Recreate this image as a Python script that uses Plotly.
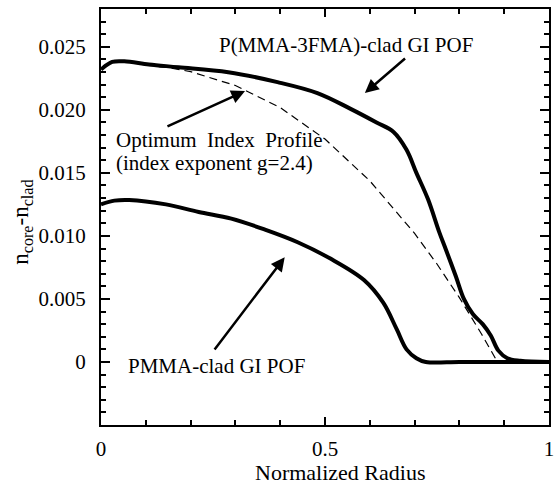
import plotly.graph_objects as go

# P(MMA-3FMA)-clad GI POF (thick solid, upper)
r_fma = [0.0, 0.025, 0.052, 0.107, 0.173, 0.284, 0.394, 0.483, 0.556, 0.615, 0.653,
         0.682, 0.704, 0.730, 0.755, 0.770, 0.792, 0.810, 0.830, 0.852, 0.870, 0.887,
         0.907, 0.936, 1.0]
dn_fma = [0.0232, 0.0238, 0.02385, 0.0236, 0.02338, 0.02299, 0.0222, 0.02133, 0.0201,
          0.0190, 0.01825, 0.01683, 0.0150, 0.0129, 0.0103, 0.0089, 0.0068, 0.0050,
          0.0038, 0.0030, 0.0021, 0.0009, 0.0003, 0.0001, 0.0]

# PMMA-clad GI POF (thick solid, lower)
r_pmma = [0.0, 0.03, 0.063, 0.145, 0.218, 0.291, 0.366, 0.439, 0.512, 0.587, 0.630,
          0.660, 0.682, 0.704, 0.725, 0.80, 0.90, 1.0]
dn_pmma = [0.0125, 0.0128, 0.01285, 0.0125, 0.0119, 0.01137, 0.0105, 0.0095, 0.0082,
           0.0065, 0.0047, 0.0026, 0.0010, 0.0003, 0.0, 0.0, 0.0, 0.0]

# Optimum index profile (dashed)
r_opt = [0.1, 0.15, 0.2, 0.3, 0.4, 0.5, 0.6, 0.7, 0.75, 0.8, 0.85, 0.885]
dn_opt = [0.02355, 0.02335, 0.02303, 0.02193, 0.02018, 0.01768, 0.01437, 0.0102,
          0.00777, 0.0051, 0.00218, 0.0]

y_tickvals = [0, 0.005, 0.010, 0.015, 0.020, 0.025]
y_ticktext = ["0", "0.005", "0.010", "0.015", "0.020", "0.025"]
x_tickvals = [0, 0.5, 1]
x_ticktext = ["0", "0.5", "1"]

FONT = "Liberation Serif, Times New Roman, serif"

fig = go.Figure()
fig.add_trace(go.Scatter(x=r_opt, y=dn_opt, mode="lines",
                         line=dict(color="black", width=1.2, dash="8px,5px"),
                         showlegend=False))
fig.add_trace(go.Scatter(x=r_fma, y=dn_fma, mode="lines", line_shape="spline",
                         line=dict(color="black", width=4), showlegend=False))
fig.add_trace(go.Scatter(x=r_pmma, y=dn_pmma, mode="lines", line_shape="spline",
                         line=dict(color="black", width=4), showlegend=False))

arrow = dict(showarrow=True, arrowhead=2, arrowsize=1.1, arrowwidth=2.5,
             arrowcolor="black", axref="x", ayref="y", xref="x", yref="y", text="")
fig.add_annotation(x=0.3215, y=0.02149, ax=0.145, ay=0.01864, **arrow)
fig.add_annotation(x=0.589, y=0.02133, ax=0.682, ay=0.02417, **arrow)
fig.add_annotation(x=0.41, y=0.0083, ax=0.251, ay=0.00087, **arrow)

txt = dict(showarrow=False, xref="x", yref="y", yanchor="middle",
           font=dict(family=FONT, size=21, color="black"))
fig.add_annotation(x=0.547, y=0.02512, text="P(MMA-3FMA)-clad GI POF", xanchor="center", **txt)
fig.add_annotation(x=0.0298, y=0.01761, text="Optimum&nbsp; Index&nbsp; Profile", xanchor="left", **txt)
fig.add_annotation(x=0.0298, y=0.0158, text="(index exponent g=2.4)", xanchor="left", **txt)
fig.add_annotation(x=0.0564, y=-0.00032, text="PMMA-clad GI POF", xanchor="left", **txt)

# axis titles
fig.add_annotation(x=0.534, y=-0.115, xref="paper", yref="paper", showarrow=False,
                   xanchor="center", yanchor="middle",
                   text="Normalized Radius", font=dict(family=FONT, size=22, color="black"))
fig.add_annotation(x=-0.177, y=0.488, xref="paper", yref="paper", showarrow=False,
                   xanchor="center", yanchor="middle",
                   textangle=-90, text="n<sub>core</sub>-n<sub>clad</sub>",
                   font=dict(family=FONT, size=23, color="black"))

fig.update_xaxes(range=[0, 1], tickvals=x_tickvals, ticktext=x_ticktext,
                 ticks="inside", ticklen=8, tickwidth=2, tickcolor="black",
                 minor=dict(dtick=0.1, ticks="inside", ticklen=5, tickwidth=2, tickcolor="black"),
                 showline=True, linewidth=2, linecolor="black", mirror="ticks",
                 showgrid=False, zeroline=False, ticklabelstandoff=4,
                 ticklabeloverflow="allow",
                 tickfont=dict(family=FONT, size=21, color="black"))
fig.update_yaxes(range=[-0.005, 0.028], tickvals=y_tickvals, ticktext=y_ticktext,
                 ticks="inside", ticklen=9, tickwidth=2, tickcolor="black",
                 minor=dict(dtick=0.001, ticks="inside", ticklen=5, tickwidth=2, tickcolor="black"),
                 showline=True, linewidth=2, linecolor="black", mirror="ticks",
                 showgrid=False, zeroline=False, ticklabelstandoff=9,
                 tickfont=dict(family=FONT, size=21, color="black"))

fig.update_layout(width=556, height=485, margin=dict(l=101, r=2, t=9, b=60),
                  font=dict(family=FONT, color="black"),
                  plot_bgcolor="white", paper_bgcolor="white")

fig.write_html("out.html", config={"displayModeBar": False},
               post_script="document.body.style.margin='0px';")
